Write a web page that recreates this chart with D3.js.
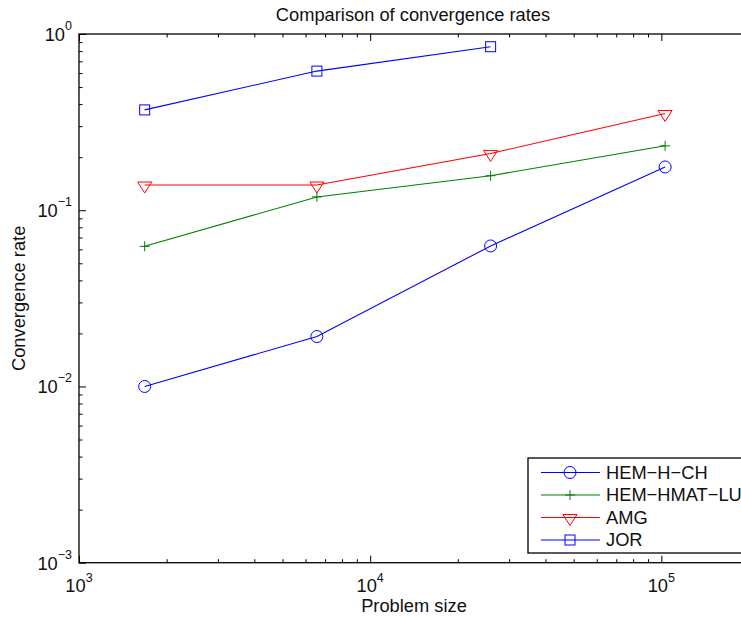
<!DOCTYPE html>
<html>
<head>
<meta charset="utf-8">
<script src="https://cdn.jsdelivr.net/npm/d3@7"></script>
<style>
  body { margin: 0; background: #fff; }
  svg { display: block; font-family: 'Liberation Sans', Arial, Helvetica, sans-serif; }
</style>
</head>
<body>
<div class="chart"></div>
<script>
const svgSize = { width: 741, height: 618 };

// data
const problemSize = [1681, 6561, 25921, 103041];
const hemHCh   = [0.0100, 0.0192, 0.0627, 0.176];
const hemHmat  = [0.0624, 0.119, 0.157, 0.232];
const amg      = [0.139, 0.139, 0.210, 0.354];
const jor      = [0.371, 0.616, 0.847];
const seriesNames = ['HEM\u2212H\u2212CH', 'HEM\u2212HMAT\u2212LU', 'AMG', 'JOR'];
const xMajor = [1e3, 1e4, 1e5];
const yMajor = [1e-3, 1e-2, 1e-1, 1];
const xExp = ['3', '4', '5'];
const yExp = ['\u22123', '\u22122', '\u22121', '0'];

const series = [
    { name: seriesNames[0], values: hemHCh,  color: '#0000ff', marker: 'circle' },
    { name: seriesNames[1], values: hemHmat, color: '#008000', marker: 'plus' },
    { name: seriesNames[2], values: amg,     color: '#ff0000', marker: 'tri' },
    { name: seriesNames[3], values: jor,     color: '#0000ff', marker: 'square' },
];

const plot = { left: 79, top: 34, right: 749, bottom: 562.7 };
const fontSize = 18.3;

const svg = d3.select('.chart')
    .append('svg')
    .attr('width', svgSize.width)
    .attr('height', svgSize.height)
;

const x = d3.scaleLog().domain([1e3, 2e5]).range([plot.left, plot.right]);
const y = d3.scaleLog().domain([1e-3, 1]).range([plot.bottom, plot.top]);

// minor tick values
const minors = (lo, hi) => {
    const out = [];
    for (let d = lo; d < hi; d *= 10)
        for (let k = 2; k <= 9; k++) out.push(d * k);
    return out;
};
const xMinor = minors(1e3, 2e5).filter(v => v <= 2e5);
const yMinor = minors(1e-3, 1);

const tickGroup = (axis, tx, ty) => svg.append('g')
    .attr('transform', `translate(${tx}, ${ty})`)
    .call(axis)
    .call(g => g.select('.domain').remove())
    .call(g => g.selectAll('line').attr('stroke', '#000').attr('stroke-width', 1))
;

// inward ticks on bottom, top and left
tickGroup(d3.axisBottom(x).tickValues(xMajor).tickSize(-7).tickFormat(''), 0, plot.bottom);
tickGroup(d3.axisBottom(x).tickValues(xMinor).tickSize(-3.5).tickFormat(''), 0, plot.bottom);
tickGroup(d3.axisTop(x).tickValues(xMajor).tickSize(-7).tickFormat(''), 0, plot.top);
tickGroup(d3.axisTop(x).tickValues(xMinor).tickSize(-3.5).tickFormat(''), 0, plot.top);
tickGroup(d3.axisLeft(y).tickValues(yMajor).tickSize(-7).tickFormat(''), plot.left, 0);
tickGroup(d3.axisLeft(y).tickValues(yMinor).tickSize(-3.5).tickFormat(''), plot.left, 0);

// box
svg.append('rect')
    .attr('x', plot.left)
    .attr('y', plot.top)
    .attr('width', plot.right - plot.left)
    .attr('height', plot.bottom - plot.top)
    .attr('fill', 'none')
    .attr('stroke', '#000')
    .attr('stroke-width', 1.3)
;

// tick labels 10^n
const xl = svg.append('g').selectAll('text').data(xMajor).enter()
    .append('text')
    .attr('x', d => x(d))
    .attr('y', plot.bottom + 29)
    .attr('text-anchor', 'middle')
    .attr('font-size', fontSize)
    .attr('fill', '#111');
xl.append('tspan').text('10');
xl.append('tspan').attr('dy', -10).attr('font-size', 12.5).text((d, i) => xExp[i]);

const yl = svg.append('g').selectAll('text').data(yMajor).enter()
    .append('text')
    .attr('x', plot.left - 7)
    .attr('y', d => y(d) + 7)
    .attr('text-anchor', 'end')
    .attr('font-size', fontSize)
    .attr('fill', '#111');
yl.append('tspan').text('10');
yl.append('tspan').attr('dy', -11).attr('font-size', 12.5).text((d, i) => yExp[i]);

// titles
svg.append('text')
    .attr('x', 413).attr('y', 21)
    .attr('text-anchor', 'middle')
    .attr('font-size', fontSize)
    .attr('fill', '#111')
    .text('Comparison of convergence rates');
svg.append('text')
    .attr('x', 414).attr('y', 612)
    .attr('text-anchor', 'middle')
    .attr('font-size', fontSize)
    .attr('fill', '#111')
    .text('Problem size');
svg.append('text')
    .attr('transform', `translate(25, ${(plot.top + plot.bottom) / 2}) rotate(-90)`)
    .attr('text-anchor', 'middle')
    .attr('font-size', fontSize)
    .attr('fill', '#111')
    .text('Convergence rate');

const drawMarker = (g, type, color) => {
    if (type === 'circle') {
        g.append('circle').attr('r', 6).attr('fill', 'none').attr('stroke', color);
    } else if (type === 'square') {
        g.append('rect').attr('x', -5).attr('y', -5).attr('width', 10).attr('height', 10)
            .attr('fill', 'none').attr('stroke', color);
    } else if (type === 'tri') {
        g.append('path').attr('d', 'M-7,-3L7,-3L0,8Z').attr('fill', 'none').attr('stroke', color);
    } else {
        g.append('path').attr('d', 'M-5,0L5,0M0,-5L0,5').attr('stroke', color);
    }
};

const line = d3.line().x(d => x(d.x)).y(d => y(d.y));

series.forEach(s => {
    const pts = s.values.map((v, i) => ({ x: problemSize[i], y: v }));
    svg.append('path')
        .datum(pts)
        .attr('d', line)
        .attr('fill', 'none')
        .attr('stroke', s.color)
        .attr('stroke-width', 1.1)
    ;
    pts.forEach(p => {
        const g = svg.append('g').attr('transform', `translate(${x(p.x)}, ${y(p.y)})`);
        drawMarker(g, s.marker, s.color);
    });
});

// legend
const legend = svg.append('g').attr('transform', 'translate(528, 458)');
legend.append('rect')
    .attr('width', 240).attr('height', 95)
    .attr('fill', '#fff').attr('stroke', '#000').attr('stroke-width', 1.3);
series.forEach((s, i) => {
    const row = legend.append('g').attr('transform', `translate(0, ${14.5 + i * 22.5})`);
    row.append('line').attr('x1', 13).attr('x2', 72).attr('stroke', s.color).attr('stroke-width', 1.1);
    drawMarker(row.append('g').attr('transform', 'translate(42, 0)'), s.marker, s.color);
    row.append('text')
        .attr('x', 78).attr('y', 6)
        .attr('font-size', fontSize)
        .attr('fill', '#111')
        .text(s.name);
});
</script>
</body>
</html>
